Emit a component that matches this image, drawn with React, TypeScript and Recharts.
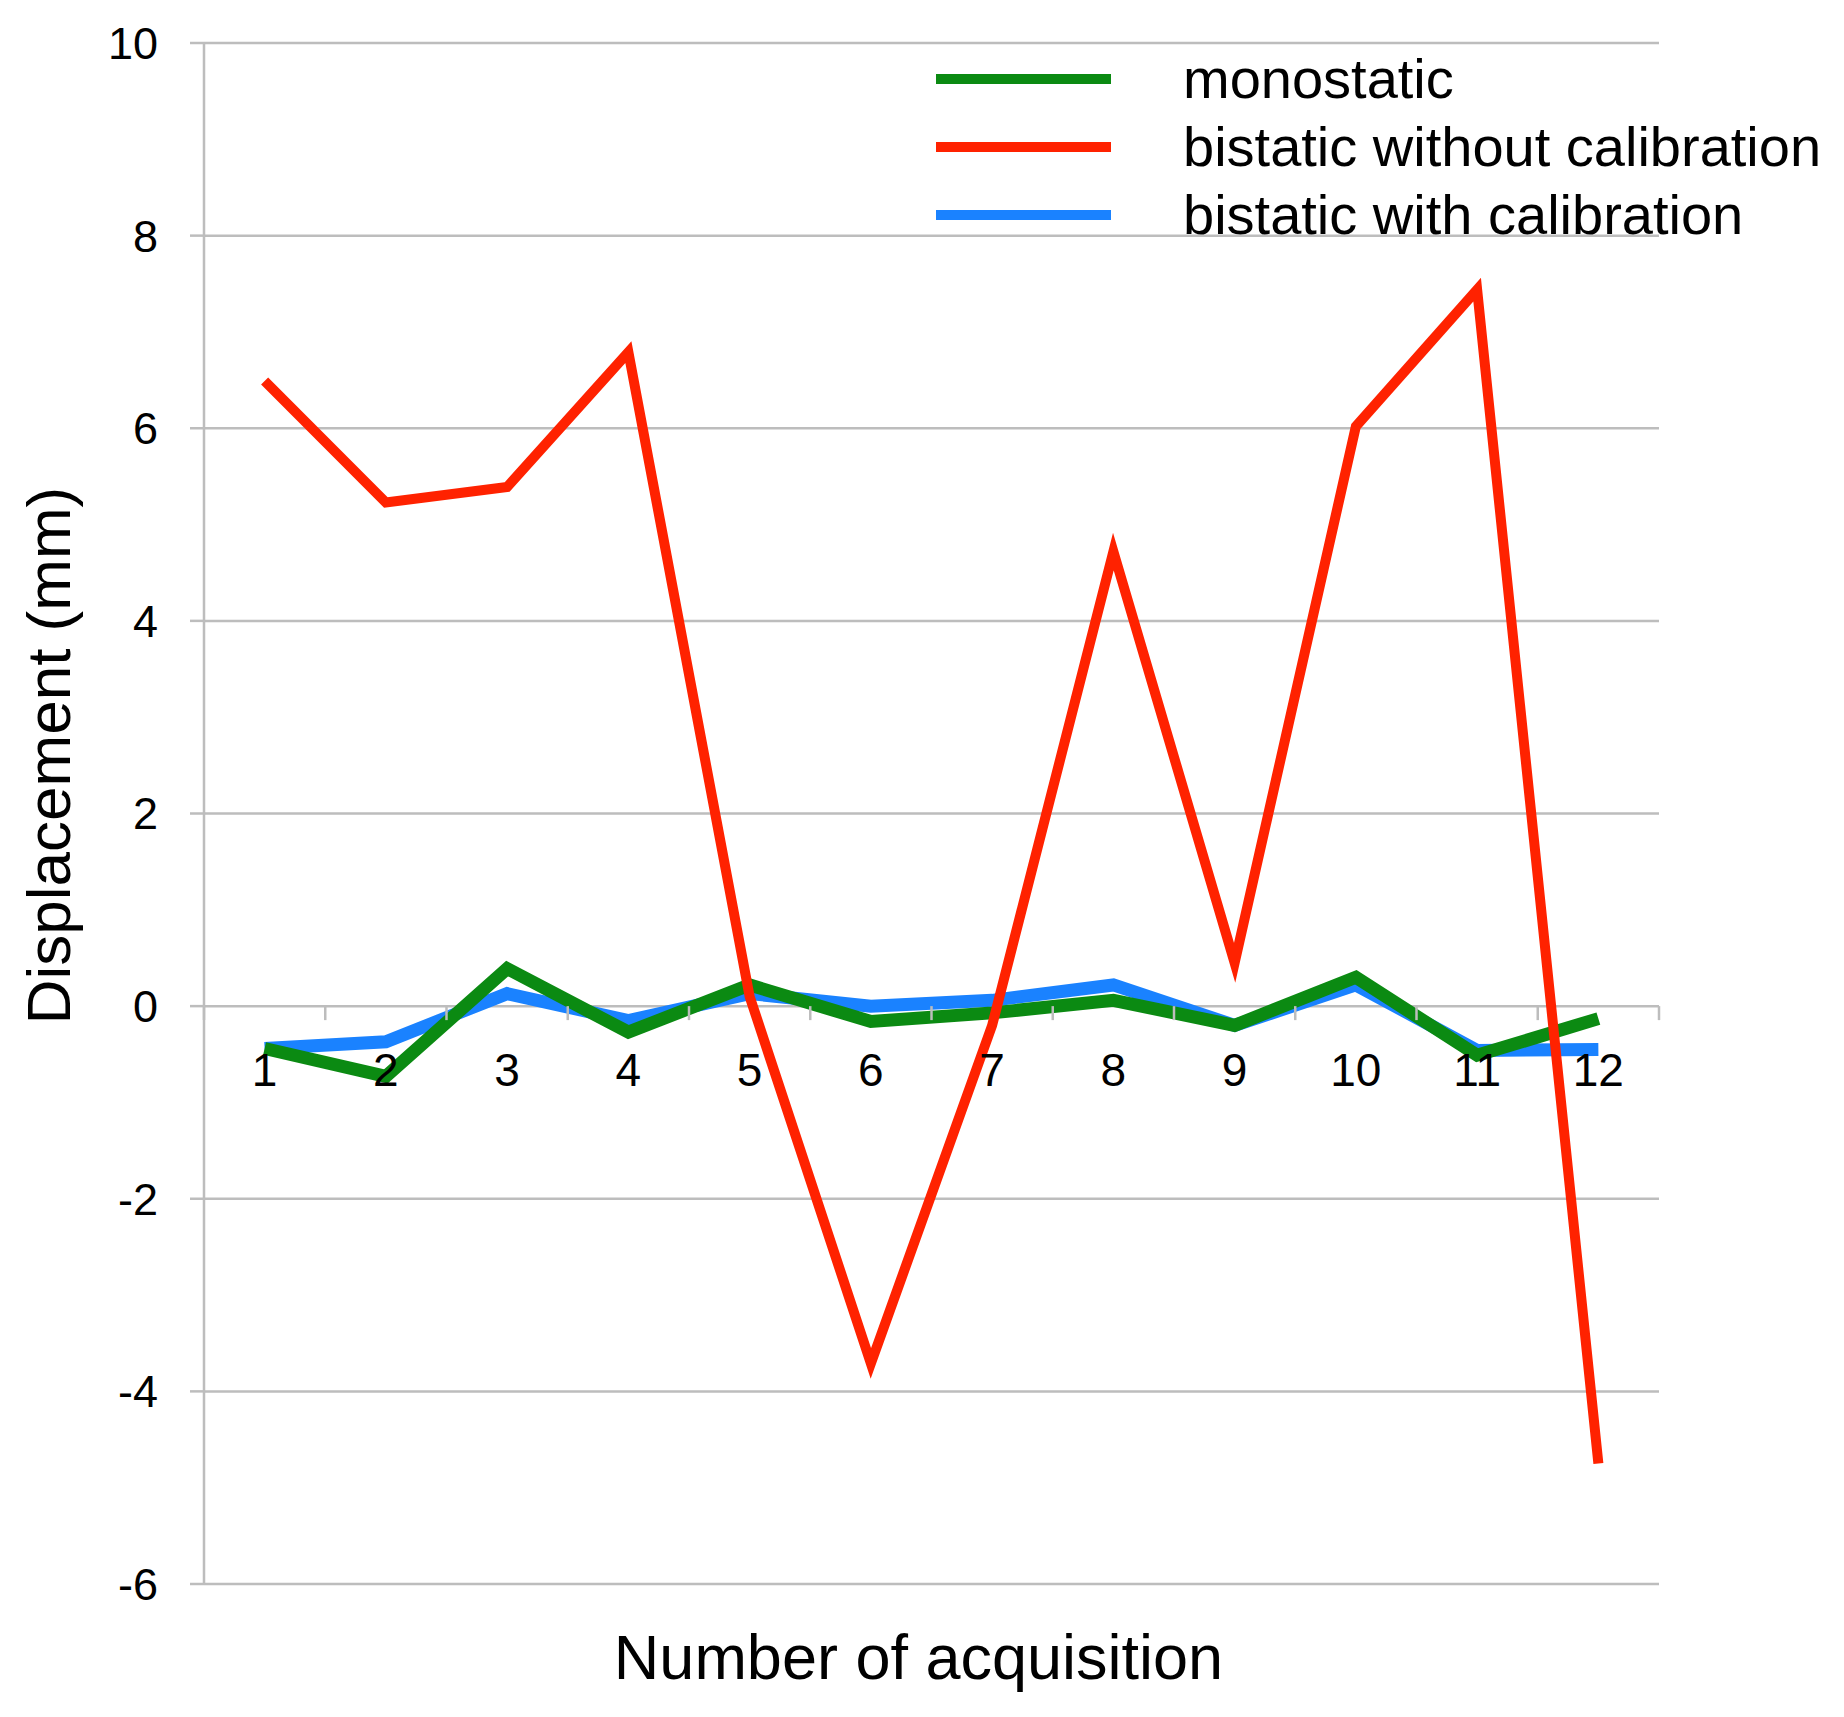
import React from 'react'
import {
  LineChart, Line, XAxis, YAxis, CartesianGrid, Legend, ReferenceDot, Label,
} from 'recharts'

// acquisition index (x) and displacement in mm for each series
const acquisitions = [1, 2, 3, 4, 5, 6, 7, 8, 9, 10, 11, 12]
const monostatic   = [-0.44, -0.73, 0.39, -0.27, 0.22, -0.16, -0.07, 0.06, -0.2, 0.3, -0.51, -0.13]
const withoutCal   = [6.49, 5.23, 5.39, 6.79, 0.1, -3.71, -0.2, 4.72, 0.45, 6.02, 7.44, -4.75]
const withCal      = [-0.44, -0.37, 0.13, -0.15, 0.13, 0.0, 0.06, 0.22, -0.2, 0.22, -0.46, -0.45]
const xLabels      = ['1', '2', '3', '4', '5', '6', '7', '8', '9', '10', '11', '12']
const yTicks       = [-6, -4, -2, 0, 2, 4, 6, 8, 10]

const FONT = '"Liberation Sans", Arial, sans-serif'
const GRID = '#bdbdbd'

// legend order as in the figure
const series = [
  { key: 'mono', name: 'monostatic', color: '#0b8a12' },
  { key: 'raw',  name: 'bistatic without calibration', color: '#ff2200' },
  { key: 'cal',  name: 'bistatic with calibration', color: '#1a82ff' },
]

const data = acquisitions.map((a, i) => ({
  acq: a,
  mono: monostatic[i],
  raw: withoutCal[i],
  cal: withCal[i],
}))

// category boundaries on the zero axis (tick marks between categories)
const boundaries = [...acquisitions.map((a) => a - 0.5), acquisitions[acquisitions.length - 1] + 0.5]

function LegendBox() {
  return (
    <div style={{ fontFamily: FONT }}>
      {series.map((s) => (
        <div key={s.key} style={{ display: 'flex', alignItems: 'center', height: 68 }}>
          <div style={{ width: 175, height: 10, background: s.color, marginRight: 72 }} />
          <span style={{ fontSize: 56, color: '#000', whiteSpace: 'nowrap', lineHeight: 1 }}>{s.name}</span>
        </div>
      ))}
    </div>
  )
}

function YTitle(props: any) {
  const vb = props.viewBox
  const x = vb.x + 40
  const y = vb.y + vb.height / 2 - 58
  return (
    <text x={x} y={y} transform={`rotate(-90, ${x}, ${y})`} textAnchor="middle"
          dominantBaseline="central" fontFamily={FONT} fontSize={62} fill="#000">
      Displacement (mm)
    </text>
  )
}

export default function App() {
  return (
    <LineChart width={1836} height={1709} data={data}
               margin={{ top: 35, right: 185, bottom: 0, left: 0 }}>
      <CartesianGrid vertical={false} stroke={GRID} strokeWidth={2.5} />
      <XAxis dataKey="acq" type="number" domain={[0.5, 12.5]} height={133}
             axisLine={false} tickLine={false} tick={false}>
        <Label value="Number of acquisition" position="center" dx={-13} dy={6}
               style={{ fontFamily: FONT, fontSize: 63, fill: '#000' }} />
      </XAxis>
      <YAxis type="number" domain={[-6, 10]} ticks={yTicks} width={196}
             axisLine={{ stroke: GRID, strokeWidth: 2.5 }}
             tickLine={{ stroke: GRID, strokeWidth: 2.5 }}
             tickSize={14} tickMargin={32}
             tick={{ fontFamily: FONT, fontSize: 45, fill: '#000' }}>
        <Label content={YTitle} />
      </YAxis>

      {boundaries.map((b) => (
        <ReferenceDot key={`t${b}`} x={b} y={0} r={1}
          shape={(p: any) => <line x1={p.cx} y1={p.cy} x2={p.cx} y2={p.cy + 14} stroke={GRID} strokeWidth={2.5} />} />
      ))}
      {acquisitions.map((a, i) => (
        <ReferenceDot key={`l${a}`} x={a} y={0} r={1}
          shape={(p: any) => (
            <text x={p.cx} y={p.cy + 80} textAnchor="middle" fontFamily={FONT} fontSize={46} fill="#000">
              {xLabels[i]}
            </text>
          )} />
      ))}

      <Line dataKey="cal" name={series[2].name} stroke={series[2].color} strokeWidth={13}
            dot={false} isAnimationActive={false} />
      <Line dataKey="mono" name={series[0].name} stroke={series[0].color} strokeWidth={13}
            dot={false} isAnimationActive={false} />
      <Line dataKey="raw" name={series[1].name} stroke={series[1].color} strokeWidth={10}
            dot={false} isAnimationActive={false} />

      <Legend layout="vertical" align="center" verticalAlign="middle" content={<LegendBox />}
              wrapperStyle={{ left: 928, top: 37, width: 908 }} />
    </LineChart>
  )
}
